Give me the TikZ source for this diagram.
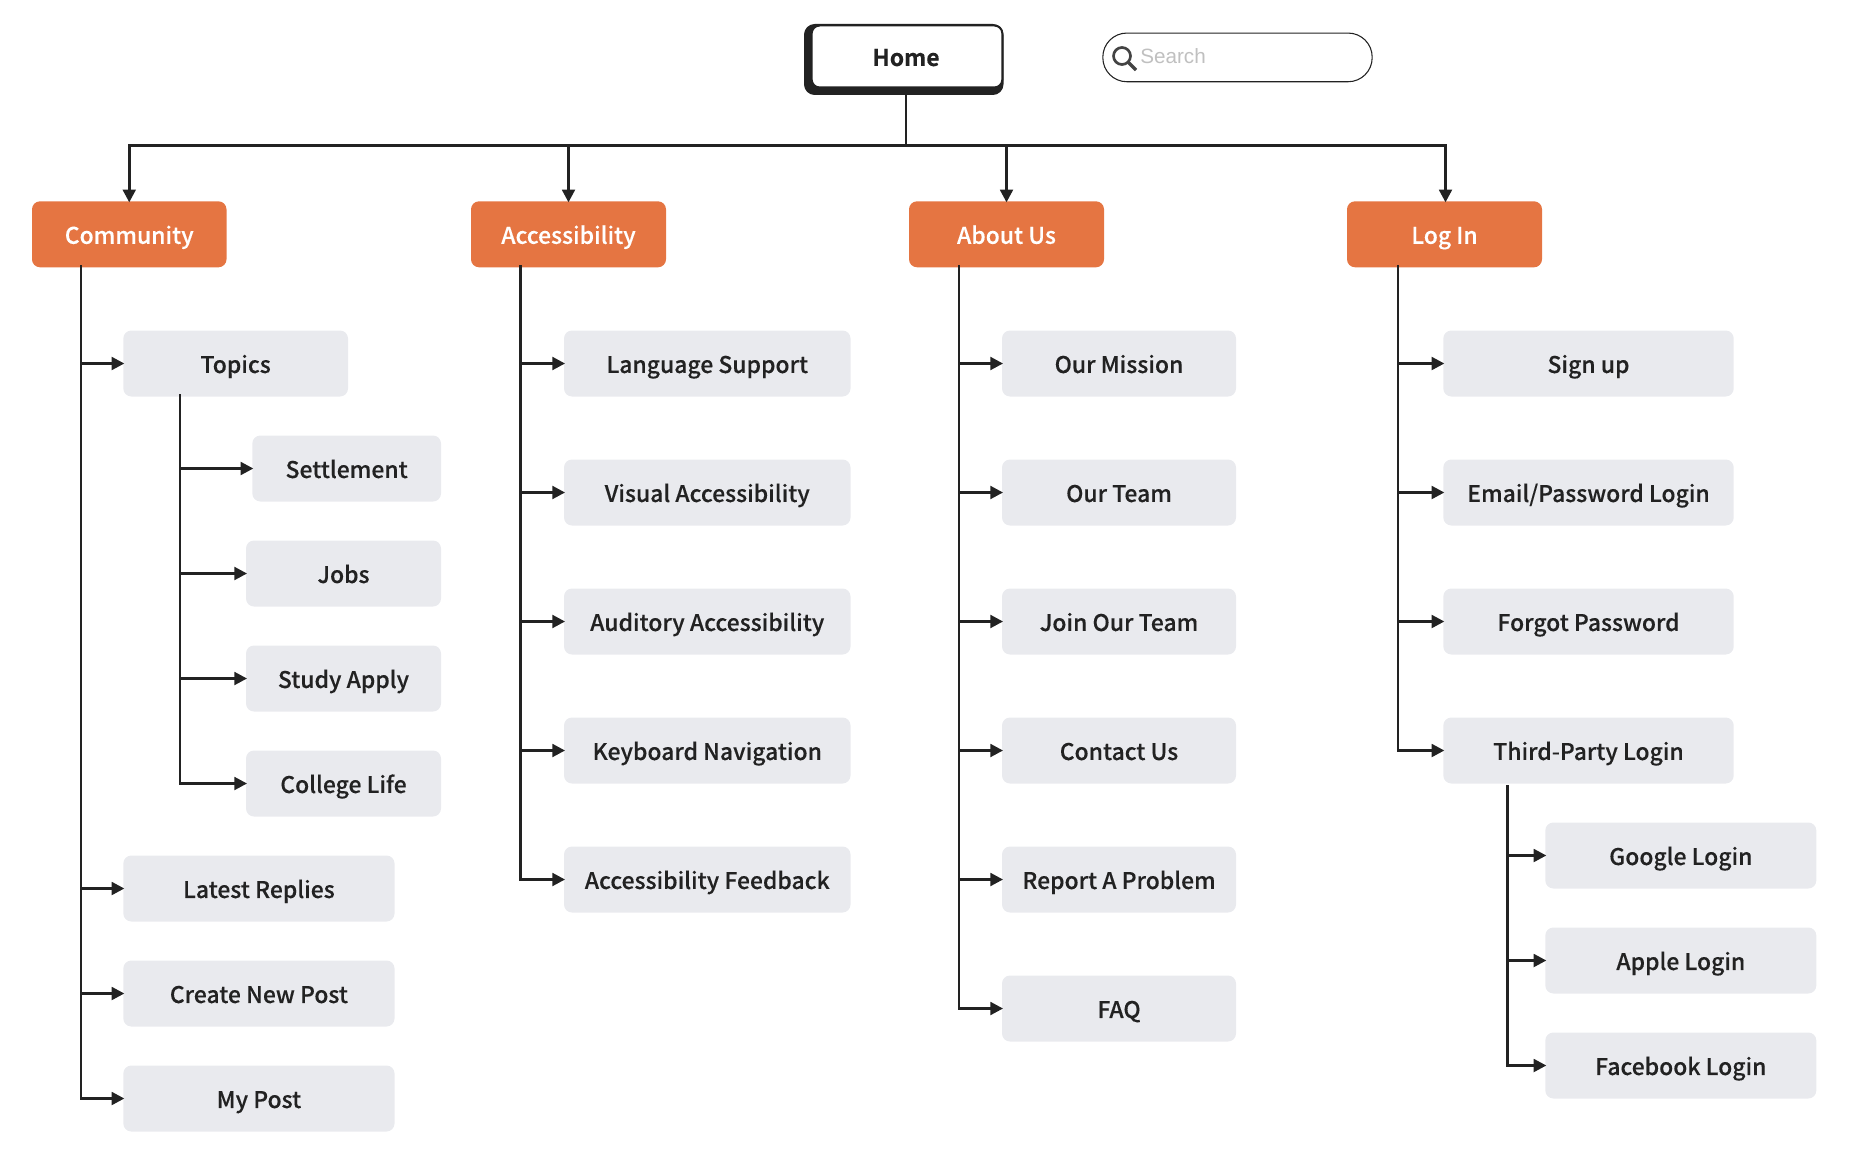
\documentclass[tikz,border=0pt]{standalone}
\usepackage{fontspec}
\usetikzlibrary{arrows.meta}
\setmainfont{Noto Sans CJK SC Medium}[FakeBold=0.2,BoldFont={Noto Sans CJK SC Bold},BoldFeatures={FakeBold=0.25}]
\newfontfamily\searchfont{Liberation Sans}
\definecolor{ink}{HTML}{222222}
\definecolor{org}{HTML}{E57542}
\definecolor{pale}{HTML}{E9EAEE}
\definecolor{hint}{HTML}{C0C0C0}
\tikzset{
 x=0.75pt,y=-0.75pt,
 lbl/.style={font=\fontsize{17.2pt}{20pt}\selectfont,text=ink,text height=16.6pt,text depth=2.4pt,inner sep=0pt,align=center,rounded corners=6pt,minimum height=49.5pt},
 graybox/.style={lbl,fill=pale},
 orangebox/.style={lbl,fill=org,text=white},
 wire/.style={draw=ink,line width=2.1pt},
 feed/.style={wire,-{Triangle[length=9.5pt,width=9.5pt]},shorten >=-1pt},
}
\newcommand{\bx}[6]{%
 \pgfmathsetmacro{\cxx}{(#3+#4)/2}\pgfmathsetmacro{\www}{(#4-#3)*0.75}%
 \node[#1,minimum width=\www pt] (#2) at (\cxx,#5) {#6};}
\begin{document}
\begin{tikzpicture}
\useasboundingbox (0,0) rectangle (1856,1156);
% home
\fill[ink,rounded corners=8pt] (804,24) rectangle (1003.5,95);
\node[lbl,fill=white,draw=ink,line width=1.5pt,minimum width=143pt,minimum height=46.5pt,rounded corners=6pt,font=\fontsize{17.2pt}{20pt}\selectfont\bfseries] (home) at (907,56.5) {Home\hspace*{1.5pt}};
\coordinate (homefoot) at (906,95);
% search
\node[draw=ink,line width=0.8pt,rounded corners=18pt,minimum width=202pt,minimum height=36.5pt,inner sep=0pt] (search) at (1237.5,57.4) {};
\node[anchor=base west,inner sep=0pt,font=\searchfont\fontsize{15.5pt}{18pt}\selectfont,text=hint] (searchtext) at (1140,64) {Search};
\draw[draw=ink!85,line width=2pt] (1122,56) circle[radius=8.5];
\draw[draw=ink!85,line width=2.6pt] (1128.5,62.5) -- (1136,70);
% heads
\bx{orangebox}{comm}{32}{226.5}{234.3}{Community}
\bx{orangebox}{acc}{471}{666}{234.3}{Accessibility}
\bx{orangebox}{about}{909}{1104}{234.3}{About Us}
\bx{orangebox}{login}{1347}{1542}{234.3}{Log In}
% community
\bx{graybox}{topics}{123.3}{348}{363.5}{Topics}
\bx{graybox}{settle}{252.3}{441}{468.5}{Settlement}
\bx{graybox}{jobs}{246}{441}{573.5}{Jobs}
\bx{graybox}{study}{246}{441}{678.5}{Study Apply}
\bx{graybox}{college}{246}{441}{783.5}{College Life}
\bx{graybox}{latest}{123.3}{394.5}{888.5}{Latest Replies}
\bx{graybox}{create}{123.3}{394.5}{993.5}{Create New Post}
\bx{graybox}{mypost}{123.3}{394.5}{1098.5}{My Post}
% accessibility
\bx{graybox}{lang}{564}{850.5}{363.5}{Language Support}
\bx{graybox}{visual}{564}{850.5}{492.5}{Visual Accessibility}
\bx{graybox}{audit}{564}{850.5}{621.5}{Auditory Accessibility}
\bx{graybox}{keyb}{564}{850.5}{750.5}{Keyboard Navigation}
\bx{graybox}{feedb}{564}{850.5}{879.5}{Accessibility Feedback}
% about
\bx{graybox}{mission}{1002}{1236}{363.5}{Our Mission}
\bx{graybox}{team}{1002}{1236}{492.5}{Our Team}
\bx{graybox}{join}{1002}{1236}{621.5}{Join Our Team}
\bx{graybox}{contact}{1002}{1236}{750.5}{Contact Us}
\bx{graybox}{report}{1002}{1236}{879.5}{Report A Problem}
\bx{graybox}{faq}{1002}{1236}{1008.5}{FAQ}
% login
\bx{graybox}{signup}{1443.3}{1733.7}{363.5}{Sign up}
\bx{graybox}{email}{1443.3}{1733.7}{492.5}{Email/Password Login}
\bx{graybox}{forgot}{1443.3}{1733.7}{621.5}{Forgot Password}
\bx{graybox}{third}{1443.3}{1733.7}{750.5}{Third-Party Login}
\bx{graybox}{google}{1545.3}{1816.3}{855.5}{Google Login}
\bx{graybox}{apple}{1545.3}{1816.3}{960.5}{Apple Login}
\bx{graybox}{facebook}{1545.3}{1816.3}{1065.5}{Facebook Login}
% top bus
\coordinate (bus) at (906,145.7);
\draw[wire] (homefoot) -- (bus);
\draw[feed] (bus) -| (comm.north);
\draw[feed] (bus) -| (acc.north);
\draw[feed] (bus) -| (about.north);
\draw[feed] (bus) -| ([xshift=0.75pt]login.north);
% trunks
\coordinate (tc) at (81,265);
\coordinate (ta) at (520.5,265);
\coordinate (tb) at (959,265);
\coordinate (tl) at (1398,265);
\coordinate (st) at (180,394);
\coordinate (sl) at (1507.7,785);
\foreach \a/\b in {tc/topics,tc/latest,tc/create,tc/mypost,st/settle,st/jobs,st/study,st/college,
 ta/lang,ta/visual,ta/audit,ta/keyb,ta/feedb,
 tb/mission,tb/team,tb/join,tb/contact,tb/report,tb/faq,
 tl/signup,tl/email,tl/forgot,tl/third,sl/google,sl/apple,sl/facebook}
 \draw[feed] (\a) |- (\b.west);
\end{tikzpicture}
\end{document}
